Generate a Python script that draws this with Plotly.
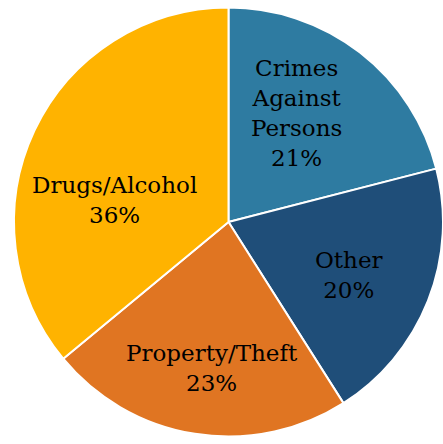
import math
import plotly.graph_objects as go

labels = ["Crimes Against Persons", "Other", "Property/Theft", "Drugs/Alcohol"]
display_text = ["Crimes<br>Against<br>Persons", "Other", "Property/Theft", "Drugs/Alcohol"]
values = [21, 20, 23, 36]
colors = ["#2E7BA1", "#1F4E79", "#E07522", "#FFB300"]

W, H = 443, 444
dom_x = [14 / W, 1.0]
dom_y = [7 / H, 437 / H]

fig = go.Figure(go.Pie(
    labels=labels,
    values=values,
    textinfo="none",
    sort=False,
    direction="clockwise",
    rotation=0,
    marker=dict(colors=colors, line=dict(color="white", width=2)),
    domain=dict(x=dom_x, y=dom_y),
    hoverinfo="label+percent",
))

# label placement: computed from slice mid-angles (style nudges only)
label_style = [(-6, 0.60), (2, 0.615), (-2.4, 0.685), (-14, 0.54)]
px_w = (dom_x[1] - dom_x[0]) * W
px_h = (dom_y[1] - dom_y[0]) * H
R = min(px_w, px_h) / 2
cx = (dom_x[0] + dom_x[1]) / 2 * W
cy = (1 - (dom_y[0] + dom_y[1]) / 2) * H
total = sum(values)
cum = 0
for txt, v, (da, rf) in zip(display_text, values, label_style):
    mid = (cum + v / 2) / total * 360 + da
    cum += v
    a = math.radians(mid)
    x = cx + rf * R * math.sin(a)
    y = cy - rf * R * math.cos(a)
    pct = round(v / total * 100)
    fig.add_annotation(
        x=x / W, y=1 - y / H, xref="paper", yref="paper",
        text=f"{txt}<br>{pct}%", showarrow=False,
        xanchor="center", yanchor="middle", align="center",
        font=dict(family="DejaVu Serif", size=23, color="black"),
    )

fig.update_layout(
    width=W, height=H,
    margin=dict(l=0, r=0, t=0, b=0),
    showlegend=False,
    paper_bgcolor="white",
)
fig.write_html("out.html")
